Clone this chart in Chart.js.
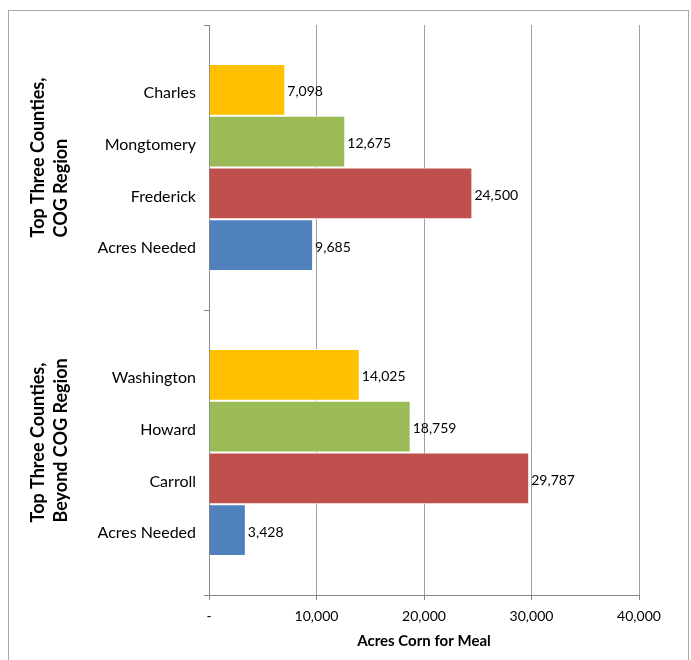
<!DOCTYPE html>
<html>
<head>
<meta charset="utf-8">
<script src="https://cdn.jsdelivr.net/npm/chart.js@4/dist/chart.umd.min.js"></script>
<style>
  body { margin: 0; background: #fff; }
  canvas { display: block; }
</style>
</head>
<body>
<canvas id="myChart" width="691" height="660"></canvas>
<script>
/* data */
const groupLines = [
  ['Top Three Counties,', 'COG Region'],
  ['Top Three Counties,', 'Beyond COG Region']
];
const countyNames1 = ['Charles', 'Mongtomery', 'Frederick', 'Acres Needed'];
const countyValues1 = [7098, 12675, 24500, 9685];
const countyNames2 = ['Washington', 'Howard', 'Carroll', 'Acres Needed'];
const countyValues2 = [14025, 18759, 29787, 3428];
const barColors = ['#FFC000', '#9BBB59', '#C0504D', '#4F81BD'];
const xTicks = [0, 10000, 20000, 30000, 40000];

const fmt = v => v === 0 ? '-' : v.toLocaleString('en-US');

const datasets = countyNames1.map(function(name, k) {
  return {
    label: name,
    data: [countyValues1[k], countyValues2[k]],
    backgroundColor: barColors[k],
    borderColor: '#ffffff',
    borderWidth: 1,
    categoryPercentage: 0.726,
    barPercentage: 1
  };
});

/* frame, rotated group titles, category names and value labels */
const labelsPlugin = {
  id: 'labels',
  beforeDraw(chart) {
    const ctx = chart.ctx;
    ctx.save();
    ctx.fillStyle = '#fff';
    ctx.fillRect(0, 0, chart.width, chart.height);
    ctx.strokeStyle = '#a6a6a6';
    ctx.lineWidth = 1;
    ctx.strokeRect(8.5, 10.5, 680, 700);
    ctx.restore();
  },
  afterDatasetsDraw(chart) {
    const ctx = chart.ctx;
    const area = chart.chartArea;
    const names = [countyNames1, countyNames2];
    ctx.save();
    ctx.fillStyle = '#000';
    ctx.textBaseline = 'middle';
    chart.data.datasets.forEach(function(ds, k) {
      const meta = chart.getDatasetMeta(k);
      meta.data.forEach(function(bar, g) {
        ctx.font = '14px Lato';
        ctx.textAlign = 'left';
        ctx.fillText(fmt(ds.data[g]), bar.x + 2, bar.y + 2);
        ctx.font = '16px Lato';
        ctx.textAlign = 'right';
        ctx.fillText(names[g][k], area.left - 13, bar.y + 3);
      });
    });

    // group titles, rotated, lines start at the same point
    const yScale = chart.scales.y;
    ctx.font = 'bold 18px Lato';
    ctx.textAlign = 'left';
    groupLines.forEach(function(lines, g) {
      const start = yScale.getPixelForValue(g) + 70;
      lines.forEach(function(line, i) {
        ctx.save();
        ctx.translate(38 + i * 23, start);
        ctx.rotate(-Math.PI / 2);
        ctx.fillText(line, 0, 0);
        ctx.restore();
      });
    });
    ctx.restore();
  }
};

const config = {
  type: 'bar',
  data: {
    labels: groupLines.map(l => l.join(' ')),
    datasets: datasets
  },
  options: {
    indexAxis: 'y',
    responsive: false,
    animation: false,
    layout: { padding: { top: 25, right: 52, bottom: 10, left: 0 } },
    plugins: {
      legend: { display: false },
      tooltip: { enabled: false }
    },
    scales: {
      x: {
        min: 0,
        max: 40000,
        afterBuildTicks(scale) {
          scale.ticks = xTicks.map(v => ({ value: v }));
        },
        afterFit(scale) {
          scale.height = 55;
        },
        ticks: {
          color: '#000',
          font: { family: 'Lato', size: 14 },
          padding: 8,
          callback: v => fmt(v)
        },
        grid: {
          color: '#a0a0a0',
          tickLength: 5,
          tickColor: '#868686'
        },
        border: { color: '#868686', width: 1 },
        title: {
          display: true,
          text: 'Acres Corn for Meal',
          color: '#000',
          font: { family: 'Lato', size: 15, weight: 'bold' },
          padding: { top: 4, bottom: 0 }
        }
      },
      y: {
        afterFit(scale) {
          scale.width = 209;
        },
        ticks: { display: false },
        grid: {
          drawOnChartArea: false,
          tickLength: 5,
          tickColor: '#868686'
        },
        border: { color: '#868686', width: 1 }
      }
    }
  },
  plugins: [labelsPlugin]
};

const myChart = new Chart(document.getElementById('myChart'), config);
</script>
</body>
</html>
